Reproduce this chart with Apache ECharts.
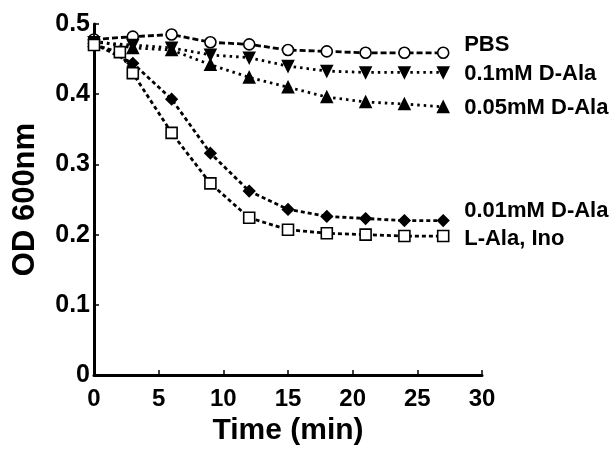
<!DOCTYPE html>
<html>
<head>
<meta charset="utf-8">
<script src="https://cdn.jsdelivr.net/npm/echarts@6/dist/echarts.min.js"></script>
<style>html,body{margin:0;padding:0;background:#fff;}#c{width:615px;height:451px;}</style>
</head>
<body>
<div id="c"></div>
<script>
var times = [0, 3, 6, 9, 12, 15, 18, 21, 24, 27];
var timesLAla = [0, 2, 3, 6, 9, 12, 15, 18, 21, 24, 27];
var pbs = [0.478, 0.482, 0.485, 0.474, 0.471, 0.463, 0.461, 0.459, 0.459, 0.459];
var dAla01 = [0.474, 0.47, 0.466, 0.456, 0.452, 0.44, 0.433, 0.431, 0.431, 0.431];
var dAla005 = [0.476, 0.466, 0.463, 0.442, 0.424, 0.41, 0.396, 0.389, 0.386, 0.382];
var dAla001 = [0.472, 0.444, 0.393, 0.316, 0.262, 0.236, 0.226, 0.223, 0.220, 0.220];
var lAlaIno = [0.470, 0.460, 0.430, 0.345, 0.273, 0.224, 0.207, 0.202, 0.200, 0.198, 0.198];
var xTicks = [0, 5, 10, 15, 20, 25, 30];
var yTicks = ['0', '0.1', '0.2', '0.3', '0.4', '0.5'];

function pairs(xs, ys) { return xs.map(function (x, i) { return [x, ys[i]]; }); }
var font = 'Liberation Sans, Arial, sans-serif';
function mk(name, xs, ys, symbol, fill, rot, lineType, offY) {
  return {
    name: name, type: 'line', data: pairs(xs, ys),
    symbol: symbol, symbolSize: 11, symbolRotate: rot,
    showAllSymbol: true,
    itemStyle: { color: fill, borderColor: '#000', borderWidth: 1.6 },
    lineStyle: { color: '#000', width: 2.8, type: lineType },
    endLabel: { show: true, formatter: name, color: '#000', fontFamily: font, fontWeight: 'bold', fontSize: 22, distance: 21, offset: [0, offY] },
    animation: false
  };
}
var chart = echarts.init(document.getElementById('c'));
chart.setOption({
  backgroundColor: '#fff',
  animation: false,
  grid: { left: 94, right: 133, top: 24, bottom: 72 },
  xAxis: {
    type: 'value', min: 0, max: 30, interval: 5,
    name: 'Time (min)', nameLocation: 'middle', nameGap: 33,
    nameTextStyle: { color: '#000', fontFamily: font, fontWeight: 'bold', fontSize: 30 },
    axisLine: { lineStyle: { color: '#000', width: 3 } },
    axisTick: { inside: true, length: 5, lineStyle: { color: '#000', width: 1.5 } },
    axisLabel: { color: '#000', fontFamily: font, fontWeight: 'bold', fontSize: 24, margin: 12,
      formatter: function (v) { return xTicks.indexOf(v) >= 0 ? String(v) : ''; } },
    splitLine: { show: false }
  },
  yAxis: {
    type: 'value', min: 0, max: 0.5, interval: 0.1,
    name: 'OD 600nm', nameLocation: 'middle', nameGap: 53,
    nameTextStyle: { color: '#000', fontFamily: font, fontWeight: 'bold', fontSize: 31 },
    axisLine: { show: true, lineStyle: { color: '#000', width: 3 } },
    axisTick: { show: true, inside: true, length: 5, lineStyle: { color: '#000', width: 1.5 } },
    axisLabel: { color: '#000', fontFamily: font, fontWeight: 'bold', fontSize: 25, margin: 4,
      padding: [0, 0, 6, 0],
      formatter: function (v) { return yTicks[Math.round(v * 10)]; } },
    splitLine: { show: false }
  },
  series: [
    mk('PBS', times, pbs, 'circle', '#fff', 0, [6, 3], -8),
    mk('0.1mM D-Ala', times, dAla01, 'triangle', '#000', 180, [2.5, 4], 1),
    mk('0.05mM D-Ala', times, dAla005, 'triangle', '#000', 0, [2.5, 4], 1),
    mk('0.01mM D-Ala', times, dAla001, 'diamond', '#000', 0, [4, 3], -10),
    mk('L-Ala, Ino', timesLAla, lAlaIno, 'rect', '#fff', 0, [4, 3], 3)
  ]
});
</script>
</body>
</html>
